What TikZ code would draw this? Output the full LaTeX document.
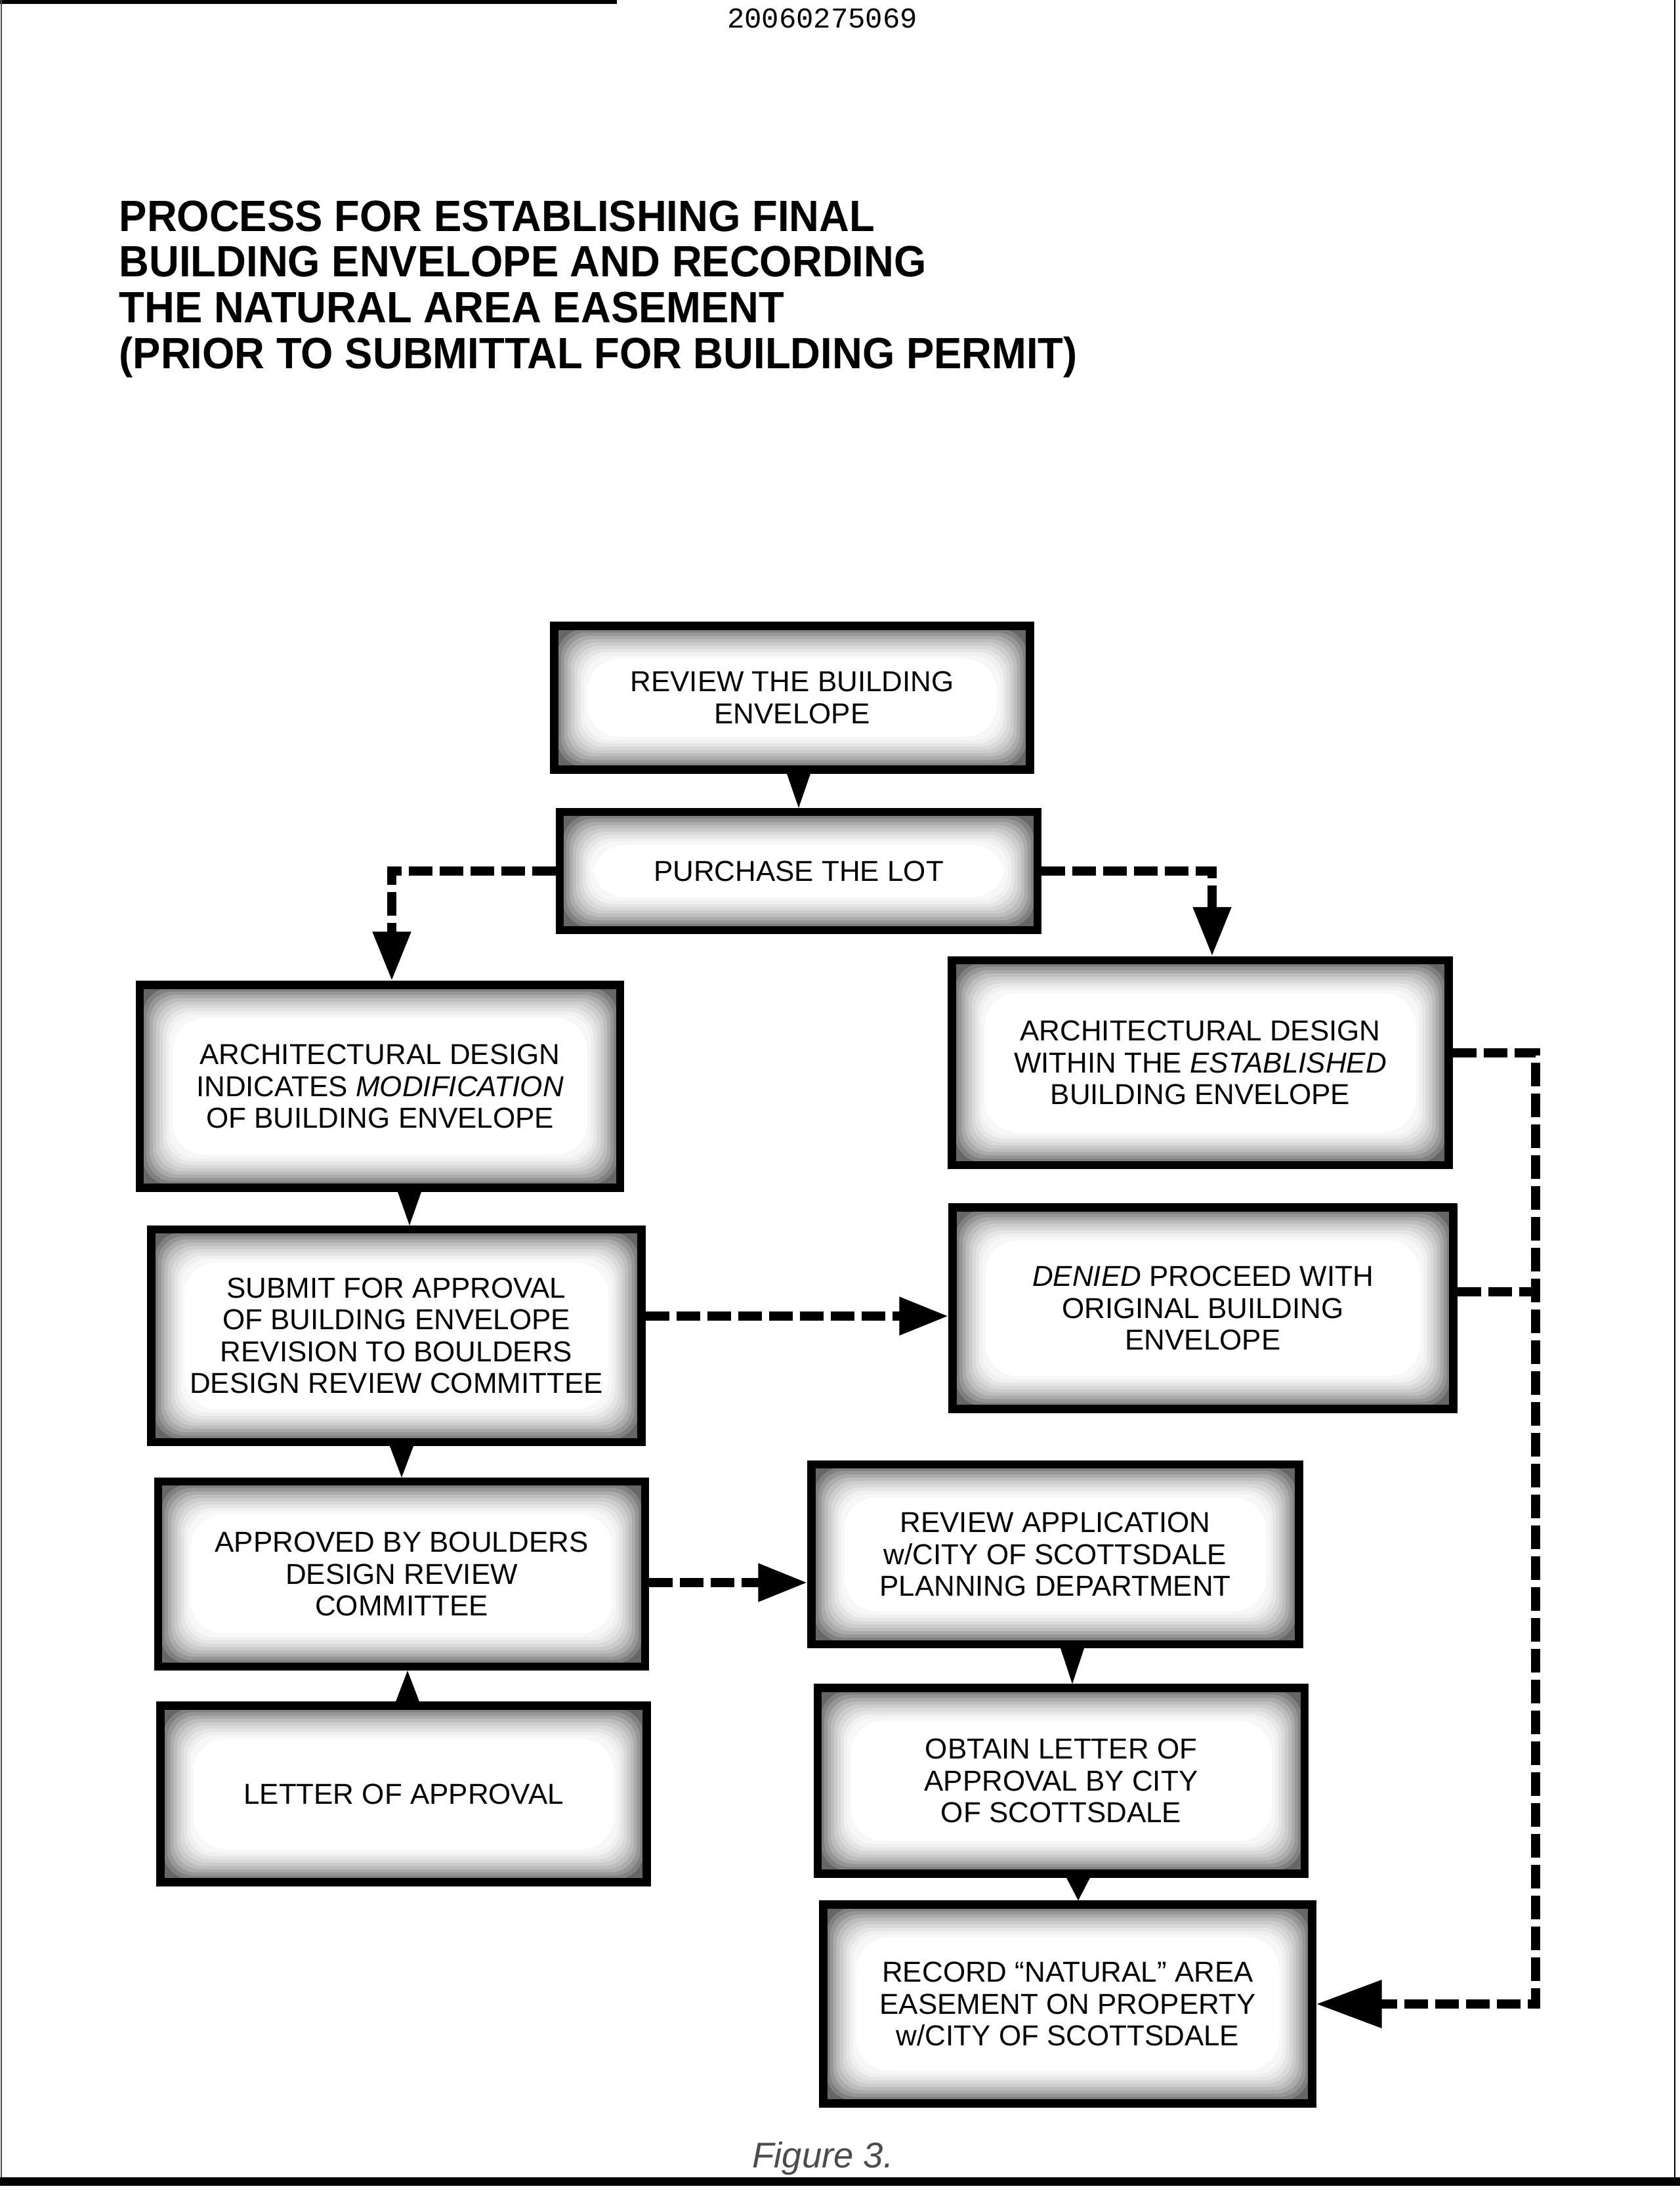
\documentclass[tikz,border=0pt]{standalone}
\usepackage{fontspec}
\setmainfont{Liberation Sans}
\newfontfamily\monofont{Liberation Mono}
\newfontfamily\titlefont[FakeStretch=0.95]{Liberation Sans}
\usetikzlibrary{positioning, arrows.meta, calc}
\newcommand{\bxfont}{\fontsize{12.5}{13.8}\selectfont}
\tikzset{
  box/.style 2 args={rectangle, draw, line width=3.5pt, minimum width=#1cm, minimum height=#2cm,
    align=center, inner sep=0pt, font=\bxfont,
    path picture={
      \fill[black!60] (path picture bounding box.south west) rectangle (path picture bounding box.north east);
      \foreach \d/\s in {0.05/50,0.10/41,0.15/33,0.20/26,0.25/20,0.30/15,0.35/10,0.40/6,0.45/3}{
        \fill[black!\s, rounded corners=4mm]
          ([shift={(\d,\d)}]path picture bounding box.south west) rectangle
          ([shift={(-\d,-\d)}]path picture bounding box.north east);
      }
      \fill[white, rounded corners=5mm]
        ([shift={(0.5,0.5)}]path picture bounding box.south west) rectangle
        ([shift={(-0.5,-0.5)}]path picture bounding box.north east);
    }},
  wedge/.style={to path={let \p1=(\tikztostart), \p2=(\tikztotarget) in
    (\x1-1.8mm+#1,\y1) -- (\x1+1.8mm+#1,\y1) -- (\x1+#1,\y2) -- cycle}},
  wedge/.default=0mm,
  dashline/.style={line width=4pt, dash pattern=on 3.6mm off 1.1mm},
  dasharr/.style={dashline, -{Triangle[length=7.5mm, width=5.5mm]}},
  bighead/.style={-{Triangle[length=10mm, width=7mm]}},
  title/.style={font=\titlefont\bfseries\fontsize{19}{19.8}\selectfont, align=left, inner sep=0pt},
}

\begin{document}
\begin{tikzpicture}
\useasboundingbox (0,0) rectangle (25.6,-33.44);

% ── Bordes del escaneo ───────────────────────────────────────
\fill (0,0) rectangle (9.4,-0.06);
\draw[line width=0.8pt, black!70] (0.02,0) -- (0.02,-33.2);
\draw[line width=0.8pt] (25.52,0) -- (25.52,-33.2);
\fill (0,-33.17) rectangle (25.6,-33.30);

% ── Encabezado y titulo ──────────────────────────────────────
\node[font=\monofont\fontsize{12.5}{14}\selectfont] (docno) at (12.53,-0.28) {20060275069};

\node[title, anchor=north west] (title) at (1.81,-3.05)
  {PROCESS FOR ESTABLISHING FINAL\\
   BUILDING ENVELOPE AND RECORDING\\
   THE NATURAL AREA EASEMENT\\
   (PRIOR TO SUBMITTAL FOR BUILDING PERMIT)};

% ── Columna central / izquierda ──────────────────────────────
\node[box={7.25}{2.19}] (review) at (12.07,-10.63) {REVIEW THE BUILDING\\ENVELOPE};
\node[box={7.28}{1.80}] (purchase) at (12.17,-13.27) {PURCHASE THE LOT};

\node[box={7.32}{3.09}] (archmod) at (5.79,-16.55)
  {ARCHITECTURAL DESIGN\\INDICATES \textit{MODIFICATION}\\OF BUILDING ENVELOPE};
\node[box={7.47}{3.24}] (submit) at (6.04,-20.35)
  {SUBMIT FOR APPROVAL\\OF BUILDING ENVELOPE\\REVISION TO BOULDERS\\DESIGN REVIEW COMMITTEE};
\node[box={7.42}{2.82}] (approved) at (6.12,-23.98)
  {APPROVED BY BOULDERS\\DESIGN REVIEW\\COMMITTEE};
\node[box={7.41}{2.69}] (letter) at (6.15,-27.33) {LETTER OF APPROVAL};

% ── Columna derecha ──────────────────────────────────────────
\node[box={7.57}{3.12}] (archok) at (18.29,-16.19)
  {ARCHITECTURAL DESIGN\\WITHIN THE \textit{ESTABLISHED}\\BUILDING ENVELOPE};
\node[box={7.63}{3.07}] (denied) at (18.33,-19.93)
  {\textit{DENIED} PROCEED WITH\\ORIGINAL BUILDING\\ENVELOPE};
\node[box={7.43}{2.74}] (reviewapp) at (16.08,-23.68)
  {REVIEW APPLICATION\\w/CITY OF SCOTTSDALE\\PLANNING DEPARTMENT};
\node[box={7.42}{2.83}] (obtain) at (16.17,-27.13)
  {OBTAIN LETTER OF\\APPROVAL BY CITY\\OF SCOTTSDALE};
\node[box={7.45}{3.03}] (record) at (16.27,-30.53)
  {RECORD ``NATURAL'' AREA\\EASEMENT ON PROPERTY\\w/CITY OF SCOTTSDALE};

% ── Flechas llenas ───────────────────────────────────────────
\fill[wedge] (review.south -| purchase.north) to (purchase.north);
\fill[wedge=2mm] (archmod.south -| submit.north) to (submit.north);
\fill[wedge] (submit.south -| approved.north) to (approved.north);
\fill[wedge=0.6mm] (letter.north) to (approved.south -| letter.north);
\fill[wedge=1.7mm] (reviewapp.south -| obtain.north) to (obtain.north);
\fill[wedge=1.6mm] (obtain.south -| record.north) to (record.north);

% ── Flechas discontinuas ─────────────────────────────────────
\draw[dasharr] (purchase.west) -| ([xshift=1.8mm]archmod.north);
\draw[dasharr] (purchase.east) -| ([xshift=1.8mm]archok.north);
\draw[dasharr] ([yshift=-1.2mm]submit.east |- denied.west) -- ([yshift=-1.2mm]denied.west);
\draw[dasharr] ([yshift=-1.3mm]approved.east) -- ([yshift=-1.3mm]approved.east -| reviewapp.west);

% Bus derecho hacia record
\coordinate (bus) at (23.4,0);
\draw[dashline] ([yshift=2.5mm]denied.east) -- ([yshift=2.5mm]denied.east -| bus);
\draw[dashline, bighead] ([yshift=1.5mm]archok.east) -| (bus |- record.east) -- (record.east);

% ── Pie ──────────────────────────────────────────────────────
\node[font=\itshape\fontsize{15.5}{17}\selectfont, text=black!70] (caption) at (12.54,-32.88) {Figure 3.};

\end{tikzpicture}
\end{document}
